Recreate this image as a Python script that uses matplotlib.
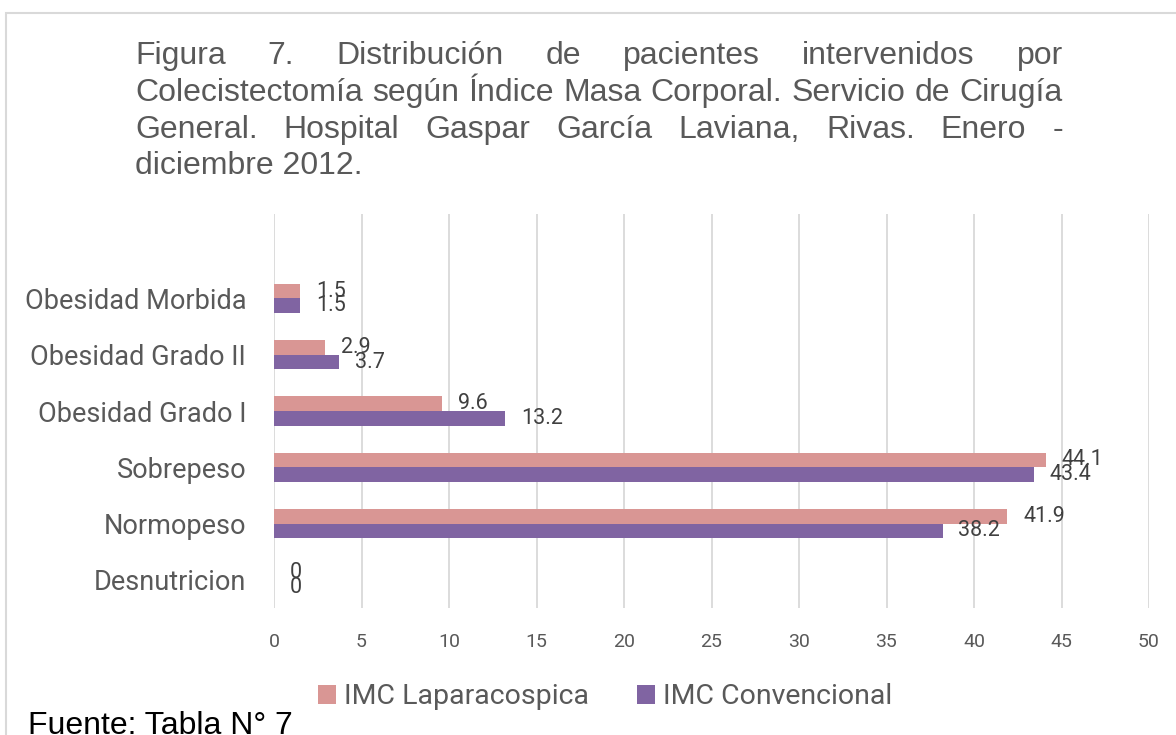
import numpy as np
import matplotlib
matplotlib.use("Agg")
import matplotlib.pyplot as plt
from matplotlib.patches import Rectangle

# data (bottom to top, as drawn)
categories = ["Desnutricion", "Normopeso", "Sobrepeso", "Obesidad Grado I",
              "Obesidad Grado II", "Obesidad Morbida"]
imc_laparoscopica = [0, 41.9, 44.1, 9.6, 2.9, 1.5]
imc_convencional = [0, 38.2, 43.4, 13.2, 3.7, 1.5]
series_names = ["IMC Laparacospica", "IMC Convencional"]
x_ticks = list(range(0, 55, 5))

title_lines = [
    "Figura 7. Distribución de pacientes intervenidos por",
    "Colecistectomía según Índice Masa Corporal. Servicio de Cirugía",
    "General. Hospital Gaspar García Laviana, Rivas. Enero -",
    "diciembre 2012.",
]
source_note = "Fuente: Tabla N° 7"

PINK = "#D99694"
PURPLE = "#8064A2"
GRID = "#D9D9D9"
TXT = "#595959"
LBL = "#404040"

W, H = 1176, 735
fig = plt.figure(figsize=(W / 100, H / 100), dpi=100, facecolor="white")

# light chart border, cut off by the right and bottom edges
fig.patches.append(Rectangle((6 / W, -0.2), 1.2, 1 - 13 / H + 0.2,
                             transform=fig.transFigure, fill=False,
                             edgecolor=GRID, linewidth=1.5))

ax = fig.add_axes([274 / W, 1 - 608 / H, (1149 - 274) / W, (608 - 214) / H])
y = np.arange(len(categories))
h = 0.26
b1 = ax.barh(y + h / 2, imc_laparoscopica, height=h, color=PINK, label=series_names[0], zorder=2)
b2 = ax.barh(y - h / 2, imc_convencional, height=h, color=PURPLE, label=series_names[1], zorder=2)

for bars, vals in ((b1, imc_laparoscopica), (b2, imc_convencional)):
    for bar, v in zip(bars, vals):
        ax.annotate(f"{v:g}", (bar.get_width(), bar.get_y() + bar.get_height() / 2),
                    xytext=(11.5, 0), textcoords="offset points", ha="left", va="center",
                    fontsize=15.5, color=LBL, family="Roboto", zorder=3)

ax.set_xlim(0, 50)
ax.set_ylim(-0.5, len(categories) + 0.5)
ax.set_xticks(x_ticks)
ax.set_yticks(y)
ax.set_yticklabels(categories, fontsize=19.5, color=TXT, family="Roboto")
for t in ax.get_xticklabels():
    t.set_fontsize(14)
    t.set_color(TXT)
    t.set_family("Roboto")
ax.tick_params(axis="both", length=0)
ax.tick_params(axis="y", pad=20)
ax.tick_params(axis="x", pad=18)
ax.xaxis.grid(True, color=GRID, linewidth=1.3, zorder=0)
for s in ax.spines.values():
    s.set_visible(False)

fig.legend(handles=[b1, b2], loc="center", bbox_to_anchor=(605 / W, 1 - 697 / H),
           ncol=2, frameon=False, handlelength=0.63, handleheight=0.63,
           handletextpad=0.28, columnspacing=1.7,
           prop={"family": "Roboto", "size": 20.5}, labelcolor=TXT)

# justified title block
renderer = fig.canvas.get_renderer()
left, right = 135, 1063
baselines = [64, 101, 138, 174]
for i, (line, base) in enumerate(zip(title_lines, baselines)):
    yb = 1 - base / H
    if i == len(title_lines) - 1:
        fig.text(left / W, yb, line, fontsize=23, color=TXT,
                 family="Liberation Sans", va="baseline")
        continue
    words = line.split(" ")
    texts = [fig.text(0, yb, w_, fontsize=23, color=TXT, family="Liberation Sans",
                      va="baseline") for w_ in words]
    widths = [t.get_window_extent(renderer).width for t in texts]
    gap = (right - left - sum(widths)) / (len(words) - 1)
    x = left
    for t, wd in zip(texts, widths):
        t.set_x(x / W)
        x += wd + gap

fig.text(28 / W, 1 - 734 / H, source_note, fontsize=23, color="black",
         family="Liberation Sans", va="baseline")

fig.savefig("out.png", dpi=100, facecolor="white")
